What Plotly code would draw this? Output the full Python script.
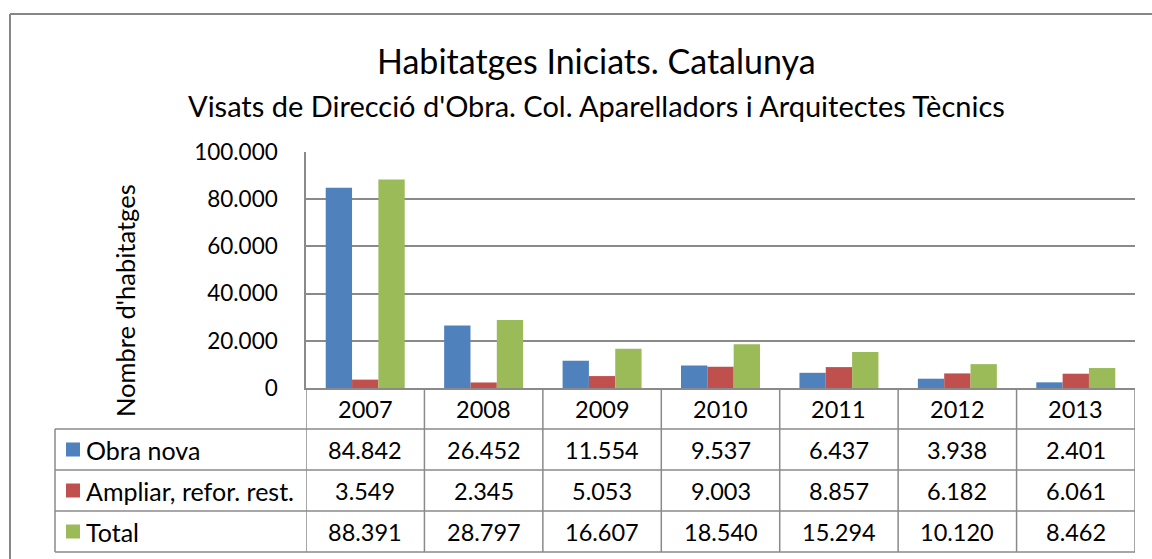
import plotly.graph_objects as go

# ---- data ----
years = ["2007", "2008", "2009", "2010", "2011", "2012", "2013"]
obra_nova = [84842, 26452, 11554, 9537, 6437, 3938, 2401]
ampliar = [3549, 2345, 5053, 9003, 8857, 6182, 6061]
total = [88391, 28797, 16607, 18540, 15294, 10120, 8462]
series_names = ["Obra nova", "Ampliar, refor. rest.", "Total"]
series_colors = ["#4F81BD", "#C0504D", "#9BBB59"]
y_ticks = [0, 20000, 40000, 60000, 80000, 100000]

title_text = "Habitatges Iniciats. Catalunya"
subtitle_text = "Visats de Direcció d'Obra. Col. Aparelladors i Arquitectes Tècnics"
y_title = "Nombre d'habitatges"

W, H = 1152, 559
FONT = "Lato"
GRID = "#8a8a8a"

def px(x):
    return x / W

def py(y):
    return 1 - y / H

# plot area in pixels
PL, PR, PT, PB = 306, 1135, 152, 388
TABLE_LEFT = 55
ROW_EDGES = [388, 429, 470, 511, 552]

def fmt(v):
    return f"{v:,}".replace(",", ".")

series = [obra_nova, ampliar, total]

fig = go.Figure()
for name, vals, col in zip(series_names, series, series_colors):
    fig.add_trace(go.Bar(x=list(range(len(years))), y=vals, name=name,
                         marker=dict(color=col, line=dict(width=0))))

shapes = []
annotations = []

# outer chart border (left and top visible)
shapes.append(dict(type="line", xref="paper", yref="paper",
                   x0=px(10), x1=px(10), y0=py(14), y1=py(570),
                   line=dict(color="#868686", width=2)))
shapes.append(dict(type="line", xref="paper", yref="paper",
                   x0=px(10), x1=px(1165), y0=py(14), y1=py(14),
                   line=dict(color="#868686", width=2)))

n = len(years)
for i in range(n + 1):
    shapes.append(dict(type="line", xref="x", yref="paper",
                       x0=i - 0.5, x1=i - 0.5, y0=py(ROW_EDGES[0]), y1=py(ROW_EDGES[-1]),
                       line=dict(color=GRID, width=1.5)))
shapes.append(dict(type="line", xref="paper", yref="paper",
                   x0=px(TABLE_LEFT), x1=px(TABLE_LEFT), y0=py(ROW_EDGES[1]), y1=py(ROW_EDGES[-1]),
                   line=dict(color=GRID, width=1.5)))
for r in ROW_EDGES[1:]:
    shapes.append(dict(type="line", xref="paper", yref="paper",
                       x0=px(TABLE_LEFT), x1=px(PR), y0=py(r), y1=py(r),
                       line=dict(color=GRID, width=1.5)))

NUM_SIZE = 23.5
LBL_SIZE = 25

cat_center = (ROW_EDGES[0] + ROW_EDGES[1]) / 2
for i, yr in enumerate(years):
    annotations.append(dict(x=i, y=py(cat_center), xref="x", yref="paper",
                            text=yr, showarrow=False, xanchor="center", yanchor="middle",
                            font=dict(family=FONT, size=NUM_SIZE, color="black")))

for r, (name, vals, col) in enumerate(zip(series_names, series, series_colors)):
    top, bot = ROW_EDGES[r + 1], ROW_EDGES[r + 2]
    cy = (top + bot) / 2
    shapes.append(dict(type="rect", xref="paper", yref="paper",
                       x0=px(66), x1=px(80), y0=py(cy - 7), y1=py(cy + 7),
                       fillcolor=col, line=dict(width=0)))
    annotations.append(dict(x=px(84), y=py(cy), xref="paper", yref="paper",
                            text=name, showarrow=False, xanchor="left", yanchor="middle",
                            font=dict(family=FONT, size=LBL_SIZE, color="black")))
    for i, v in enumerate(vals):
        annotations.append(dict(x=i, y=py(cy), xref="x", yref="paper",
                                text=fmt(v), showarrow=False, xanchor="center", yanchor="middle",
                                font=dict(family=FONT, size=NUM_SIZE, color="black")))

annotations.append(dict(x=px(596), y=py(61), xref="paper", yref="paper", text=title_text,
                        showarrow=False, xanchor="center", yanchor="middle",
                        font=dict(family=FONT, size=34, color="black")))
annotations.append(dict(x=px(596), y=py(105), xref="paper", yref="paper", text=subtitle_text,
                        showarrow=False, xanchor="center", yanchor="middle",
                        font=dict(family=FONT, size=29, color="black")))
annotations.append(dict(x=px(125), y=py(301), xref="paper", yref="paper", text=y_title,
                        showarrow=False, xanchor="center", yanchor="middle", textangle=-90,
                        font=dict(family=FONT, size=25.5, color="black")))

fig.update_layout(
    width=W, height=H,
    margin=dict(l=0, r=0, t=0, b=0, pad=0, autoexpand=False),
    paper_bgcolor="white", plot_bgcolor="white",
    separators=",.",
    barmode="group", bargap=0.333, bargroupgap=0,
    showlegend=False,
    shapes=shapes, annotations=annotations,
    xaxis=dict(domain=[px(PL), px(PR)], range=[-0.5, n - 0.5], showticklabels=False,
               showgrid=False, zeroline=False, showline=True, linecolor=GRID, linewidth=1.5,
               ticks="", fixedrange=True, automargin=False),
    yaxis=dict(domain=[py(PB), py(PT)], range=[0, 100000], tickvals=y_ticks,
               tickformat=",d", showgrid=True, gridcolor=GRID, gridwidth=1.5,
               zeroline=False, showline=True, linecolor=GRID, linewidth=1.5,
               ticks="outside", ticklen=22, tickcolor="rgba(0,0,0,0)", automargin=False,
               tickfont=dict(family=FONT, size=22.5, color="black"), fixedrange=True),
)

fig.write_html("out.html", config={"displayModeBar": False},
               post_script="document.body.style.margin='0';document.body.style.overflow='hidden';")
